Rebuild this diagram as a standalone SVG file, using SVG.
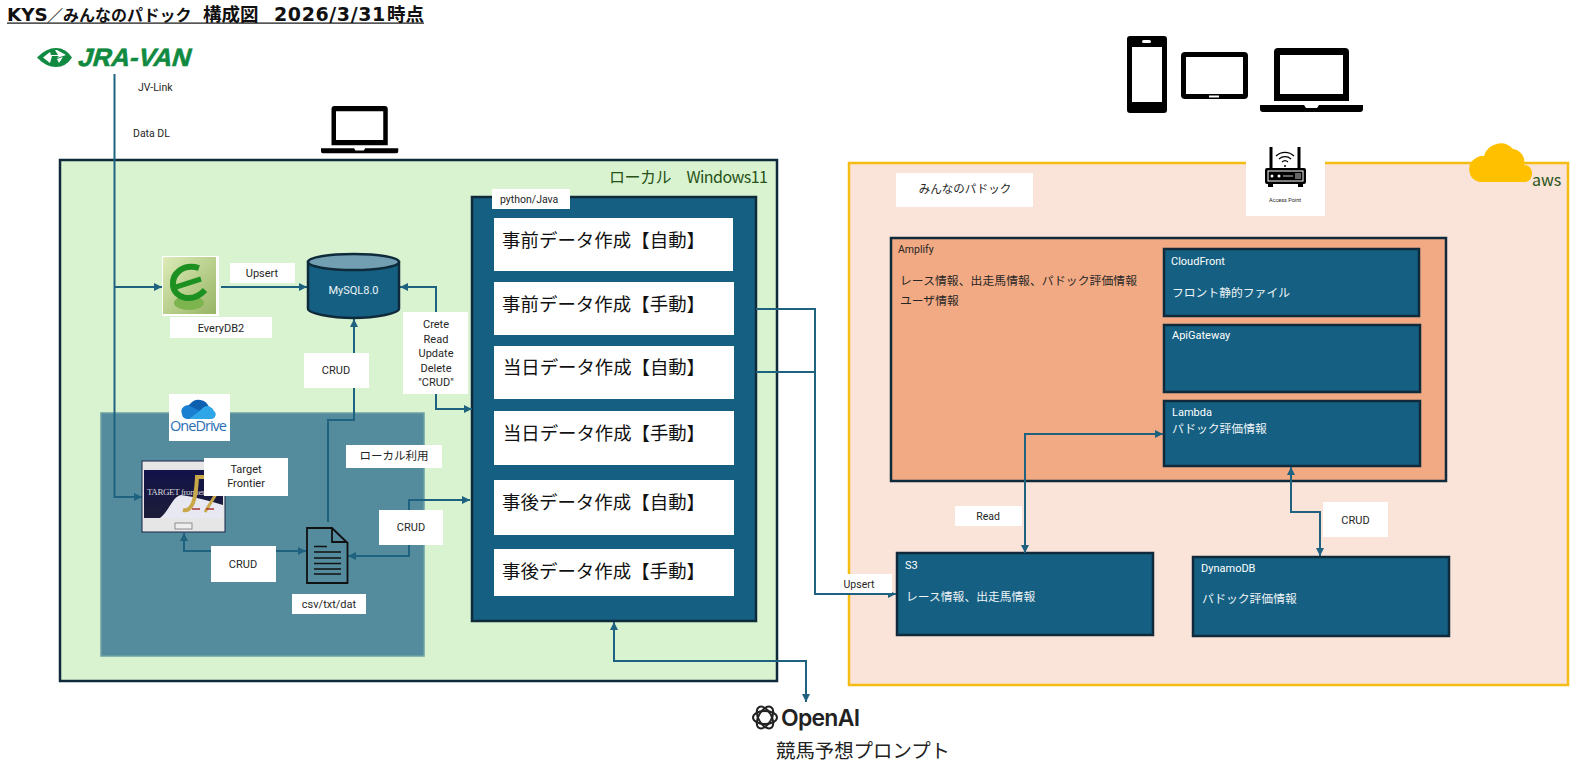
<svg xmlns="http://www.w3.org/2000/svg" width="1593" height="773" viewBox="0 0 1593 773">
<style>
text{font-family:Roboto,"Noto Sans CJK JP",sans-serif;font-size:11px;fill:#262626}
.jp{font-family:"Noto Sans CJK JP","Noto Sans",sans-serif}
.m{text-anchor:middle}
.w{fill:#fff}
.lt{fill:#eef4f7}
.big{font-family:"Noto Sans CJK JP",sans-serif;font-size:18.4px;fill:#111}
.small{font-size:11.8px}
.lab{fill:#fff}
.blue{fill:#156082;stroke:#0e2a3b;stroke-width:2.5}
.conn{fill:none;stroke:#1f6280;stroke-width:2}
.both{marker-start:url(#a);marker-end:url(#a)}
.end{marker-end:url(#a)}
.ic{fill:#000}
.env{font-family:"Noto Sans CJK JP",sans-serif;font-size:16px;fill:#275317}
.ttl{font-family:"Noto Sans CJK JP",sans-serif;font-weight:700;font-size:18.5px;fill:#111}
.ttn{font-family:"DejaVu Sans",sans-serif;font-weight:700;fill:#111}
</style>
<defs>
<marker id="a" markerUnits="userSpaceOnUse" markerWidth="9" markerHeight="9" refX="8" refY="4" orient="auto-start-reverse"><path d="M0 0L8 4L0 8Z" fill="#1f6280"/></marker>
<linearGradient id="eg" x1="0" y1="0" x2="1" y2="1"><stop offset="0" stop-color="#dcebb8"/><stop offset="1" stop-color="#97b564"/></linearGradient>
<linearGradient id="tf" x1="0" y1="0" x2="0" y2="1"><stop offset="0" stop-color="#12124a"/><stop offset="1" stop-color="#1d1d38"/></linearGradient>
<g id="laptop"><path d="M18 0H85A4 4 0 0 1 89 4V53H14V4A4 4 0 0 1 18 0ZM20 7V46H83V7Z" fill-rule="evenodd" class="ic"/><path d="M0 57H44L46 60H57L59 57H103V61Q103 64 100 64H3Q0 64 0 61Z" class="ic"/></g>
</defs>

<g id="title"><text y="21" class="ttl"><tspan x="7" class="ttn" style="font-size:18.400px">KYS</tspan><tspan x="47" style="font-size:16px">／みんなのパドック&#160;</tspan><tspan x="203">構成図&#160;</tspan><tspan x="274" class="ttn" style="font-size:19px;letter-spacing:.6px">2026/3/31</tspan><tspan x="387">時点</tspan></text><rect x="7" y="22.500" width="417" height="1.200" fill="#111"/></g>

<g id="local"><rect x="60" y="160" width="717" height="521" fill="#d9f2d0" stroke="#0e2a3b" stroke-width="2.5"/><text x="609" y="183" class="env" textLength="159" xml:space="preserve">ローカル　Windows11</text></g>
<g id="onedrive-area"><rect x="101" y="413" width="323" height="243" fill="#548c9e" stroke="#6ca0a5" stroke-width="1.5"/></g>
<g id="python"><rect x="472" y="197" width="284" height="424" class="blue"/></g>
<g id="aws"><rect x="849" y="163" width="719" height="522" fill="#fae3d8" stroke="#f5bd14" stroke-width="2.5"/></g>
<g id="amplify"><rect x="891" y="238" width="555" height="243" fill="#f2aa84" stroke="#0e2a3b" stroke-width="2.5"/>
<text x="898" y="253" style="font-size:10.5px">Amplify</text>
<text x="900" y="285" class="jp small" textLength="237">レース情報、出走馬情報、パドック評価情報</text>
<text x="900" y="305" class="jp small">ユーザ情報</text></g>
<g id="cloudfront"><rect x="1164" y="249" width="255" height="67" class="blue"/><text x="1171" y="265" class="w">CloudFront</text><text x="1172" y="297" class="jp small lt">フロント静的ファイル</text></g>
<g id="apigateway"><rect x="1164" y="325" width="256" height="67" class="blue"/><text x="1172" y="339" class="w">ApiGateway</text></g>
<g id="lambda"><rect x="1164" y="401" width="256" height="65" class="blue"/><text x="1172" y="416" class="w">Lambda</text><text x="1172" y="433" class="jp small lt">パドック評価情報</text></g>
<g id="s3"><rect x="897" y="553" width="256" height="82" class="blue"/><text x="905" y="569" class="w">S3</text><text x="906" y="601" class="jp small lt">レース情報、出走馬情報</text></g>
<g id="dynamodb"><rect x="1193" y="557" width="256" height="79" class="blue"/><text x="1201" y="572" class="w">DynamoDB</text><text x="1202" y="603" class="jp small lt">パドック評価情報</text></g>

<g id="task-boxes">
<g id="t1"><rect x="494" y="218" width="239" height="53" class="lab"/><text x="502" y="247" class="big" textLength="203">事前データ作成【自動】</text></g>
<g id="t2"><rect x="494" y="282" width="240" height="53" class="lab"/><text x="502" y="311" class="big" textLength="203">事前データ作成【手動】</text></g>
<g id="t3"><rect x="494" y="346" width="240" height="53" class="lab"/><text x="503" y="374" class="big" textLength="202">当日データ作成【自動】</text></g>
<g id="t4"><rect x="494" y="411" width="240" height="54" class="lab"/><text x="503" y="440" class="big" textLength="202">当日データ作成【手動】</text></g>
<g id="t5"><rect x="494" y="480" width="240" height="55" class="lab"/><text x="502" y="509" class="big" textLength="203">事後データ作成【自動】</text></g>
<g id="t6"><rect x="494" y="549" width="240" height="47" class="lab"/><text x="502" y="578" class="big" textLength="203">事後データ作成【手動】</text></g>
<g id="python-label"><rect x="492" y="189" width="78" height="20" class="lab"/><text x="500" y="203" style="font-size:10.5px">python/Java</text></g>
</g>

<g id="connectors">
<path class="conn" d="M114.500 74V497H142" marker-end="url(#a)"/>
<path class="conn end" d="M114.500 287H162"/>
<path class="conn end" d="M221 287H307"/>
<path class="conn both" d="M472 409H436V287H400"/>
<path class="conn end" d="M328 522V420H354V319"/>
<path class="conn both" d="M348 556H409V500H470"/>
<path class="conn both" d="M306 551H184V533"/>
<path class="conn end" d="M756 309H815V594H896"/>
<path class="conn" d="M756 372H815"/>
<path class="conn both" d="M614 622V661H806V702"/>
<path class="conn both" d="M1025 553V434H1163"/>
<path class="conn both" d="M1291 467V512H1320V556"/>
</g>

<g id="jravan"><path d="M37 57.500Q46 48 56 48Q66 48 72 57.500Q66 67 56 67Q46 67 37 57.500Z" fill="#0f8a40"/><path d="M43 57.500L50 52L51 55H58L55 50H57L66 55L57 58L59 56H52L50 63Z" fill="#fff"/><path d="M57 59L63 57L59 63Z" fill="#fff"/>
<text transform="translate(77 66) skewX(-16)" style="font-family:'Liberation Sans',sans-serif;font-size:25px;font-weight:700;fill:#0f8a40;stroke:#0f8a40;stroke-width:.6" textLength="112" lengthAdjust="spacingAndGlyphs">JRA-VAN</text></g>
<g id="jv-labels"><text x="138" y="91" style="font-size:10.500px">JV-Link</text><text x="133" y="137" style="font-size:10.500px">Data DL</text></g>
<g id="laptop-local"><use href="#laptop" transform="translate(321 106) scale(.75 .74)"/></g>

<g id="everydb"><rect x="162" y="256" width="57" height="60" fill="#fff"/><rect x="163" y="257" width="53" height="57" fill="url(#eg)"/>
<ellipse cx="189" cy="303" rx="15" ry="7" fill="#7db44e"/><path d="M199 268C183 263 172 274 173 285C174 298 192 304 205 290" fill="none" stroke="#1c9020" stroke-width="6"/><path d="M176 287L201 279" stroke="#1c9020" stroke-width="5"/>
<rect x="170" y="317" width="102" height="21" class="lab"/><text x="221" y="332" class="m">EveryDB2</text></g>
<g id="upsert1"><rect x="230" y="263" width="65" height="20" class="lab"/><text x="262" y="277" class="m">Upsert</text></g>
<g id="mysql"><path d="M308 262V309C308 313 330 318 353.500 318S399 313 399 309V262Z" fill="#156082" stroke="#0e2a3b" stroke-width="2.500"/><ellipse cx="353.500" cy="262" rx="45.500" ry="8" fill="#739fb3" stroke="#0e2a3b" stroke-width="2.500"/><text x="353.500" y="294" class="m lt">MySQL8.0</text></g>
<g id="crud-label"><rect x="403" y="312" width="65" height="82" class="lab"/><text x="436" y="328" class="m">Crete</text><text x="436" y="343" class="m">Read</text><text x="436" y="357" class="m">Update</text><text x="436" y="372" class="m">Delete</text><text x="436" y="386" class="m">"CRUD"</text></g>
<g id="crud-mysql"><rect x="304" y="353" width="65" height="35" class="lab"/><text x="336" y="374" class="m">CRUD</text></g>

<g id="onedrive"><rect x="169" y="394" width="61" height="47" class="lab"/><path d="M186 414A9 9 0 0 1 190 404A11 11 0 0 1 209 407L200 414Z" fill="#0f5fb0"/><path d="M182 414A6 6 0 0 1 190 406L200 411L190 419H187A5 5 0 0 1 182 414Z" fill="#1a7fd0"/><path d="M196 419H211A4.500 4.500 0 0 0 214 411A7 7 0 0 0 204 407L190 419Z" fill="#2fa6e8"/><text x="170" y="431" style="font-size:14.500px;font-family:'Open Sans',sans-serif;fill:#2a6fb5" textLength="57">OneDrive</text></g>
<g id="target-frontier"><rect x="142" y="461" width="83" height="71" fill="#e6e6e6" stroke="#1a2348" stroke-width="1"/><rect x="144" y="470" width="79" height="48" fill="url(#tf)"/><path d="M160 518C170 510 172 497 181 495C195 497 210 501 223 505V518Z" fill="#e8e8f2"/><text x="147" y="495" style="font-family:'Liberation Serif',serif;font-size:9px;fill:#d9d9d9" textLength="58">TARGET frontier</text><path d="M183 510C192 512 196 500 197 477H212" fill="none" stroke="#c9a84a" stroke-width="4"/><path d="M205 512L226 478" stroke="#c9a84a" stroke-width="3"/><path d="M192 509H200M206 509H214" stroke="#a33" stroke-width="1.500"/><rect x="175" y="523" width="17" height="6" fill="#eee" stroke="#777" stroke-width=".8"/></g>
<g id="tf-label"><rect x="204" y="458" width="84" height="38" class="lab"/><text x="246" y="473" class="m">Target</text><text x="246" y="487" class="m">Frontier</text></g>
<g id="local-use"><rect x="346" y="445" width="96" height="23" class="lab"/><text x="394" y="460" class="m jp" style="font-size:11.500px">ローカル利用</text></g>
<g id="crud-py"><rect x="379" y="510" width="64" height="35" class="lab"/><text x="411" y="531" class="m">CRUD</text></g>
<g id="crud-tf"><rect x="211" y="546" width="65" height="36" class="lab"/><text x="243" y="568" class="m">CRUD</text></g>
<g id="file"><path d="M307 528H332L347.500 543V583H307ZM332 528V542H347.500" fill="none" stroke="#111" stroke-width="1.800"/><path d="M314 546.500H327M314 552H341M314 558H341M314 563.500H341M314 569H341M314 574H341" stroke="#111" stroke-width="1.600" fill="none"/><rect x="292" y="594" width="74" height="20" class="lab"/><text x="329" y="608" class="m">csv/txt/dat</text></g>

<g id="upsert2"><rect x="840" y="574" width="52" height="19" class="lab"/><text x="859" y="588" class="m" style="font-size:10.500px">Upsert</text></g>
<g id="read"><rect x="955" y="506" width="67" height="20" class="lab"/><text x="988" y="520" class="m" style="font-size:10.500px">Read</text></g>
<g id="crud-ddb"><rect x="1323" y="502" width="65" height="35" class="lab"/><text x="1355.500" y="524" class="m">CRUD</text></g>
<g id="minna"><rect x="896" y="173" width="137" height="34" class="lab"/><text x="965" y="193" class="m jp" style="font-size:11.500px">みんなのパドック</text></g>

<g id="access-point"><rect x="1246" y="147" width="79" height="69" class="lab"/>
<path d="M1271 147V168M1299 147V168" stroke="#000" stroke-width="3"/><path d="M1276 156A13 13 0 0 1 1294 156M1279 159A9 9 0 0 1 1291 159M1282 162A4.500 4.500 0 0 1 1288 162" fill="none" stroke="#000" stroke-width="1.200"/><circle cx="1285" cy="166" r="1" fill="#000"/>
<rect x="1265" y="168" width="41" height="16" rx="2" fill="#000"/><rect x="1268" y="171" width="35" height="10" fill="none" stroke="#fff" stroke-width="1"/><circle cx="1272" cy="176" r="1.500" fill="#fff"/><circle cx="1279" cy="176" r="1.500" fill="#fff"/><path d="M1283 176H1293M1296 173V179M1298 173V179M1300 173V179" stroke="#fff" stroke-width=".8"/><rect x="1268" y="184" width="5" height="3" fill="#000"/><rect x="1298" y="184" width="5" height="3" fill="#000"/>
<text x="1285" y="202" class="m" style="font-size:5.500px">Access Point</text></g>
<g id="aws-cloud"><path d="M1479 182A13 13 0 0 1 1476 158Q1481 155 1484 156A17 17 0 0 1 1513 149A13 13 0 0 1 1524 165H1526A9 9 0 0 1 1526 182Z" fill="#ffc000"/><text x="1532" y="186" class="env">aws</text></g>

<g id="devices"><g id="phone"><rect x="1127" y="36" width="40" height="77" rx="3" class="ic"/><rect x="1132" y="47" width="30" height="55" fill="#fff"/><rect x="1142" y="40" width="9" height="3" rx="1.500" fill="#fff"/></g>
<g id="tablet"><rect x="1181" y="52" width="67" height="47" rx="4" class="ic"/><rect x="1186" y="57" width="57" height="37" fill="#fff"/><rect x="1209" y="95.500" width="10" height="2" fill="#fff"/></g>
<g id="laptop-device"><use href="#laptop" transform="translate(1260 48)"/></g></g>

<g id="openai"><g fill="none" stroke="#222" stroke-width="2"><ellipse cx="765" cy="717.500" rx="12" ry="6.500"/><ellipse cx="765" cy="717.500" rx="12" ry="6.500" transform="rotate(60 765 717.500)"/><ellipse cx="765" cy="717.500" rx="12" ry="6.500" transform="rotate(120 765 717.500)"/></g>
<text x="781" y="726" style="font-family:Inter,sans-serif;font-size:23px;font-weight:600;fill:#222" textLength="79">OpenAI</text>
<text x="776" y="758" class="jp" style="font-size:19.400px;fill:#222" textLength="174">競馬予想プロンプト</text></g>
</svg>
